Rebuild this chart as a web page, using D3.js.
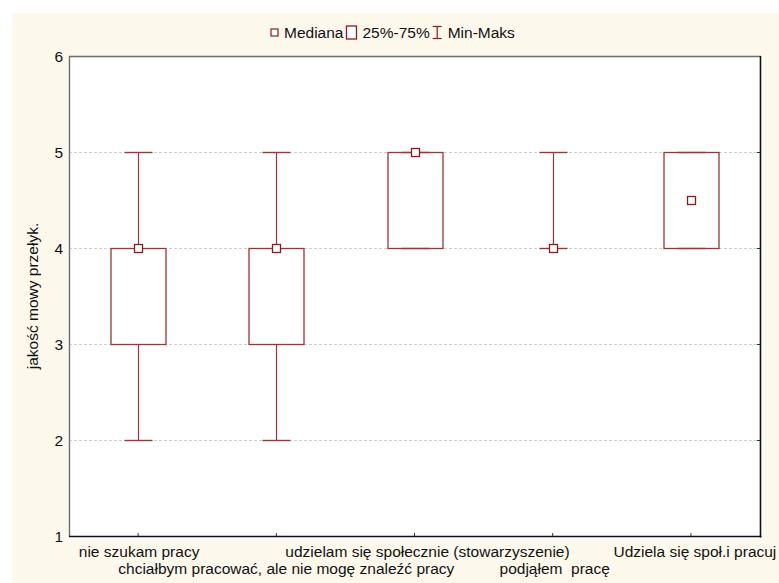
<!DOCTYPE html>
<html>
<head>
<meta charset="utf-8">
<script src="https://cdn.jsdelivr.net/npm/d3@7"></script>
<style>
  html, body { margin: 0; padding: 0; background: #ffffff; }
  svg { display: block; font-family: "Liberation Sans", Arial, sans-serif; }
  text { fill: #111; }
</style>
</head>
<body>
<svg id="chart" width="779" height="583"></svg>
<script>
// Groups on the category axis
const categories = [
  "nie szukam pracy",
  "chciałbym pracować, ale nie mogę znaleźć pracy",
  "udzielam się społecznie (stowarzyszenie)",
  "podjąłem  pracę",
  "Udziela się społ.i pracuj"
];
// Summary statistics per group
const minVals    = [2, 2, 4, 4, 4];
const q1Vals     = [3, 3, 4, 4, 4];
const medianVals = [4, 4, 5, 4, 4.5];
const q3Vals     = [4, 4, 5, 4, 5];
const maxVals    = [5, 5, 5, 5, 5];
// Value axis ticks
const yTicks = [1, 2, 3, 4, 5, 6];
const legendLabels = ["Mediana", "25%-75%", "Min-Maks"];
const yTitle = "jakość mowy przełyk.";

const W = 779, H = 583;
const plot = { left: 69, right: 760, top: 56, bottom: 536 };
const boxColor = "#9e3434";
const markColor = "#8a1c1c";
const fontSize = 15.5;

const svg = d3.select("#chart");

// Panel background and white plot area
svg.append("rect").attr("x", 12).attr("y", 13).attr("width", W - 12).attr("height", H - 13)
  .attr("fill", "#fdf8ec");
svg.append("rect").attr("x", plot.left).attr("y", plot.top)
  .attr("width", plot.right - plot.left + 3).attr("height", plot.bottom - plot.top + 3)
  .attr("fill", "#ffffff");

const x = d3.scaleBand().domain(categories).range([plot.left, plot.right]).padding(0);
const y = d3.scaleLinear().domain([1, 6]).range([plot.bottom, plot.top]);

// Dashed grid lines
svg.append("g").selectAll("line").data(yTicks.filter(t => t > 1 && t < 6)).join("line")
  .attr("x1", plot.left).attr("x2", plot.right)
  .attr("y1", d => y(d) + 0.5).attr("y2", d => y(d) + 0.5)
  .attr("stroke", "#cfcfcf").attr("stroke-width", 1).attr("stroke-dasharray", "3,2");

// Small ticks on the right edge
svg.append("g").selectAll("line").data(yTicks.filter(t => t > 1 && t < 6)).join("line")
  .attr("x1", plot.right - 3).attr("x2", plot.right)
  .attr("y1", d => y(d) + 0.5).attr("y2", d => y(d) + 0.5)
  .attr("stroke", "#333");

// Y axis tick labels
svg.append("g").selectAll("text").data(yTicks).join("text")
  .attr("x", 63).attr("y", d => y(d))
  .attr("dy", "0.36em")
  .attr("text-anchor", "end")
  .attr("font-size", fontSize)
  .text(d => d);

// Y axis title
svg.append("text")
  .attr("transform", `translate(38,${(plot.top + plot.bottom) / 2}) rotate(-90)`)
  .attr("text-anchor", "middle")
  .attr("font-size", fontSize)
  .text(yTitle);

// Frame: light top/left, dark right/bottom
svg.append("line").attr("x1", plot.left + 0.5).attr("x2", plot.left + 0.5)
  .attr("y1", plot.top).attr("y2", plot.bottom + 1).attr("stroke", "#6e6e6e").attr("stroke-width", 1.4);
svg.append("line").attr("x1", plot.left).attr("x2", plot.right + 1)
  .attr("y1", plot.top + 0.5).attr("y2", plot.top + 0.5).attr("stroke", "#6e6e6e").attr("stroke-width", 1.4);
svg.append("line").attr("x1", plot.right + 0.5).attr("x2", plot.right + 0.5)
  .attr("y1", plot.top).attr("y2", plot.bottom + 1.5).attr("stroke", "#111").attr("stroke-width", 1.6);
svg.append("line").attr("x1", plot.left).attr("x2", plot.right + 1.5)
  .attr("y1", plot.bottom + 0.5).attr("y2", plot.bottom + 0.5).attr("stroke", "#111").attr("stroke-width", 1.6);

// Category ticks on the bottom edge
svg.append("g").selectAll("line").data(categories).join("line")
  .attr("x1", d => x(d) + x.bandwidth() / 2).attr("x2", d => x(d) + x.bandwidth() / 2)
  .attr("y1", plot.bottom - 3).attr("y2", plot.bottom)
  .attr("stroke", "#333");

// Category labels, alternating on two rows
const labelNudge = [1, 10, 13, 2, 4];
svg.append("g").selectAll("text").data(categories).join("text")
  .attr("x", (d, i) => x(d) + x.bandwidth() / 2 + labelNudge[i])
  .attr("y", (d, i) => i % 2 === 0 ? 557 : 574)
  .attr("text-anchor", "middle")
  .attr("font-size", fontSize)
  .style("white-space", "pre")
  .text(d => d);

// Box plots
const boxW = 55, capW = 28, medS = 8;
const groups = svg.append("g").selectAll("g").data(categories).join("g");
groups.each(function (c, i) {
  const g = d3.select(this);
  const cx = Math.round(x(c) + x.bandwidth() / 2) + 0.5;
  // whiskers
  if (maxVals[i] > q3Vals[i]) {
    g.append("line").attr("x1", cx).attr("x2", cx)
      .attr("y1", y(q3Vals[i])).attr("y2", y(maxVals[i]))
      .attr("stroke", boxColor).attr("stroke-width", 1.2);
  }
  if (minVals[i] < q1Vals[i]) {
    g.append("line").attr("x1", cx).attr("x2", cx)
      .attr("y1", y(q1Vals[i])).attr("y2", y(minVals[i]))
      .attr("stroke", boxColor).attr("stroke-width", 1.2);
  }
  // caps
  [minVals[i], maxVals[i]].forEach(v => {
    g.append("line").attr("x1", cx - capW / 2).attr("x2", cx + capW / 2)
      .attr("y1", Math.round(y(v)) + 0.5).attr("y2", Math.round(y(v)) + 0.5)
      .attr("stroke", boxColor).attr("stroke-width", 1.4);
  });
  // box
  g.append("rect")
    .attr("x", cx - boxW / 2).attr("y", Math.round(y(q3Vals[i])) + 0.5)
    .attr("width", boxW).attr("height", y(q1Vals[i]) - y(q3Vals[i]))
    .attr("fill", "none").attr("stroke", boxColor).attr("stroke-width", 1.3);
  // median marker
  g.append("rect")
    .attr("x", cx - medS / 2).attr("y", Math.round(y(medianVals[i])) - medS / 2 + 0.5)
    .attr("width", medS).attr("height", medS)
    .attr("fill", "#ffffff").attr("stroke", markColor).attr("stroke-width", 1.3);
});

// Legend
const leg = svg.append("g");
let lx = 271;
const ly = 32;
// median icon
leg.append("rect").attr("x", lx).attr("y", ly - 3).attr("width", 7).attr("height", 7)
  .attr("fill", "#fff").attr("stroke", markColor).attr("stroke-width", 1.2);
let t = leg.append("text").attr("x", lx + 13).attr("y", ly).attr("dy", "0.36em")
  .attr("font-size", fontSize).text(legendLabels[0]);
lx = lx + 13 + t.node().getComputedTextLength() + 3;
// box icon
leg.append("rect").attr("x", lx).attr("y", ly - 6).attr("width", 10).attr("height", 13)
  .attr("fill", "#fff").attr("stroke", markColor).attr("stroke-width", 1.3);
t = leg.append("text").attr("x", lx + 16).attr("y", ly).attr("dy", "0.36em")
  .attr("font-size", fontSize).text(legendLabels[1]);
lx = lx + 16 + t.node().getComputedTextLength() + 3;
// whisker icon
leg.append("line").attr("x1", lx + 4.5).attr("x2", lx + 4.5).attr("y1", ly - 6).attr("y2", ly + 7)
  .attr("stroke", markColor).attr("stroke-width", 1.2);
leg.append("line").attr("x1", lx).attr("x2", lx + 9).attr("y1", ly - 5.5).attr("y2", ly - 5.5)
  .attr("stroke", markColor).attr("stroke-width", 1.2);
leg.append("line").attr("x1", lx).attr("x2", lx + 9).attr("y1", ly + 6.5).attr("y2", ly + 6.5)
  .attr("stroke", markColor).attr("stroke-width", 1.2);
leg.append("text").attr("x", lx + 15).attr("y", ly).attr("dy", "0.36em")
  .attr("font-size", fontSize).text(legendLabels[2]);
</script>
</body>
</html>
